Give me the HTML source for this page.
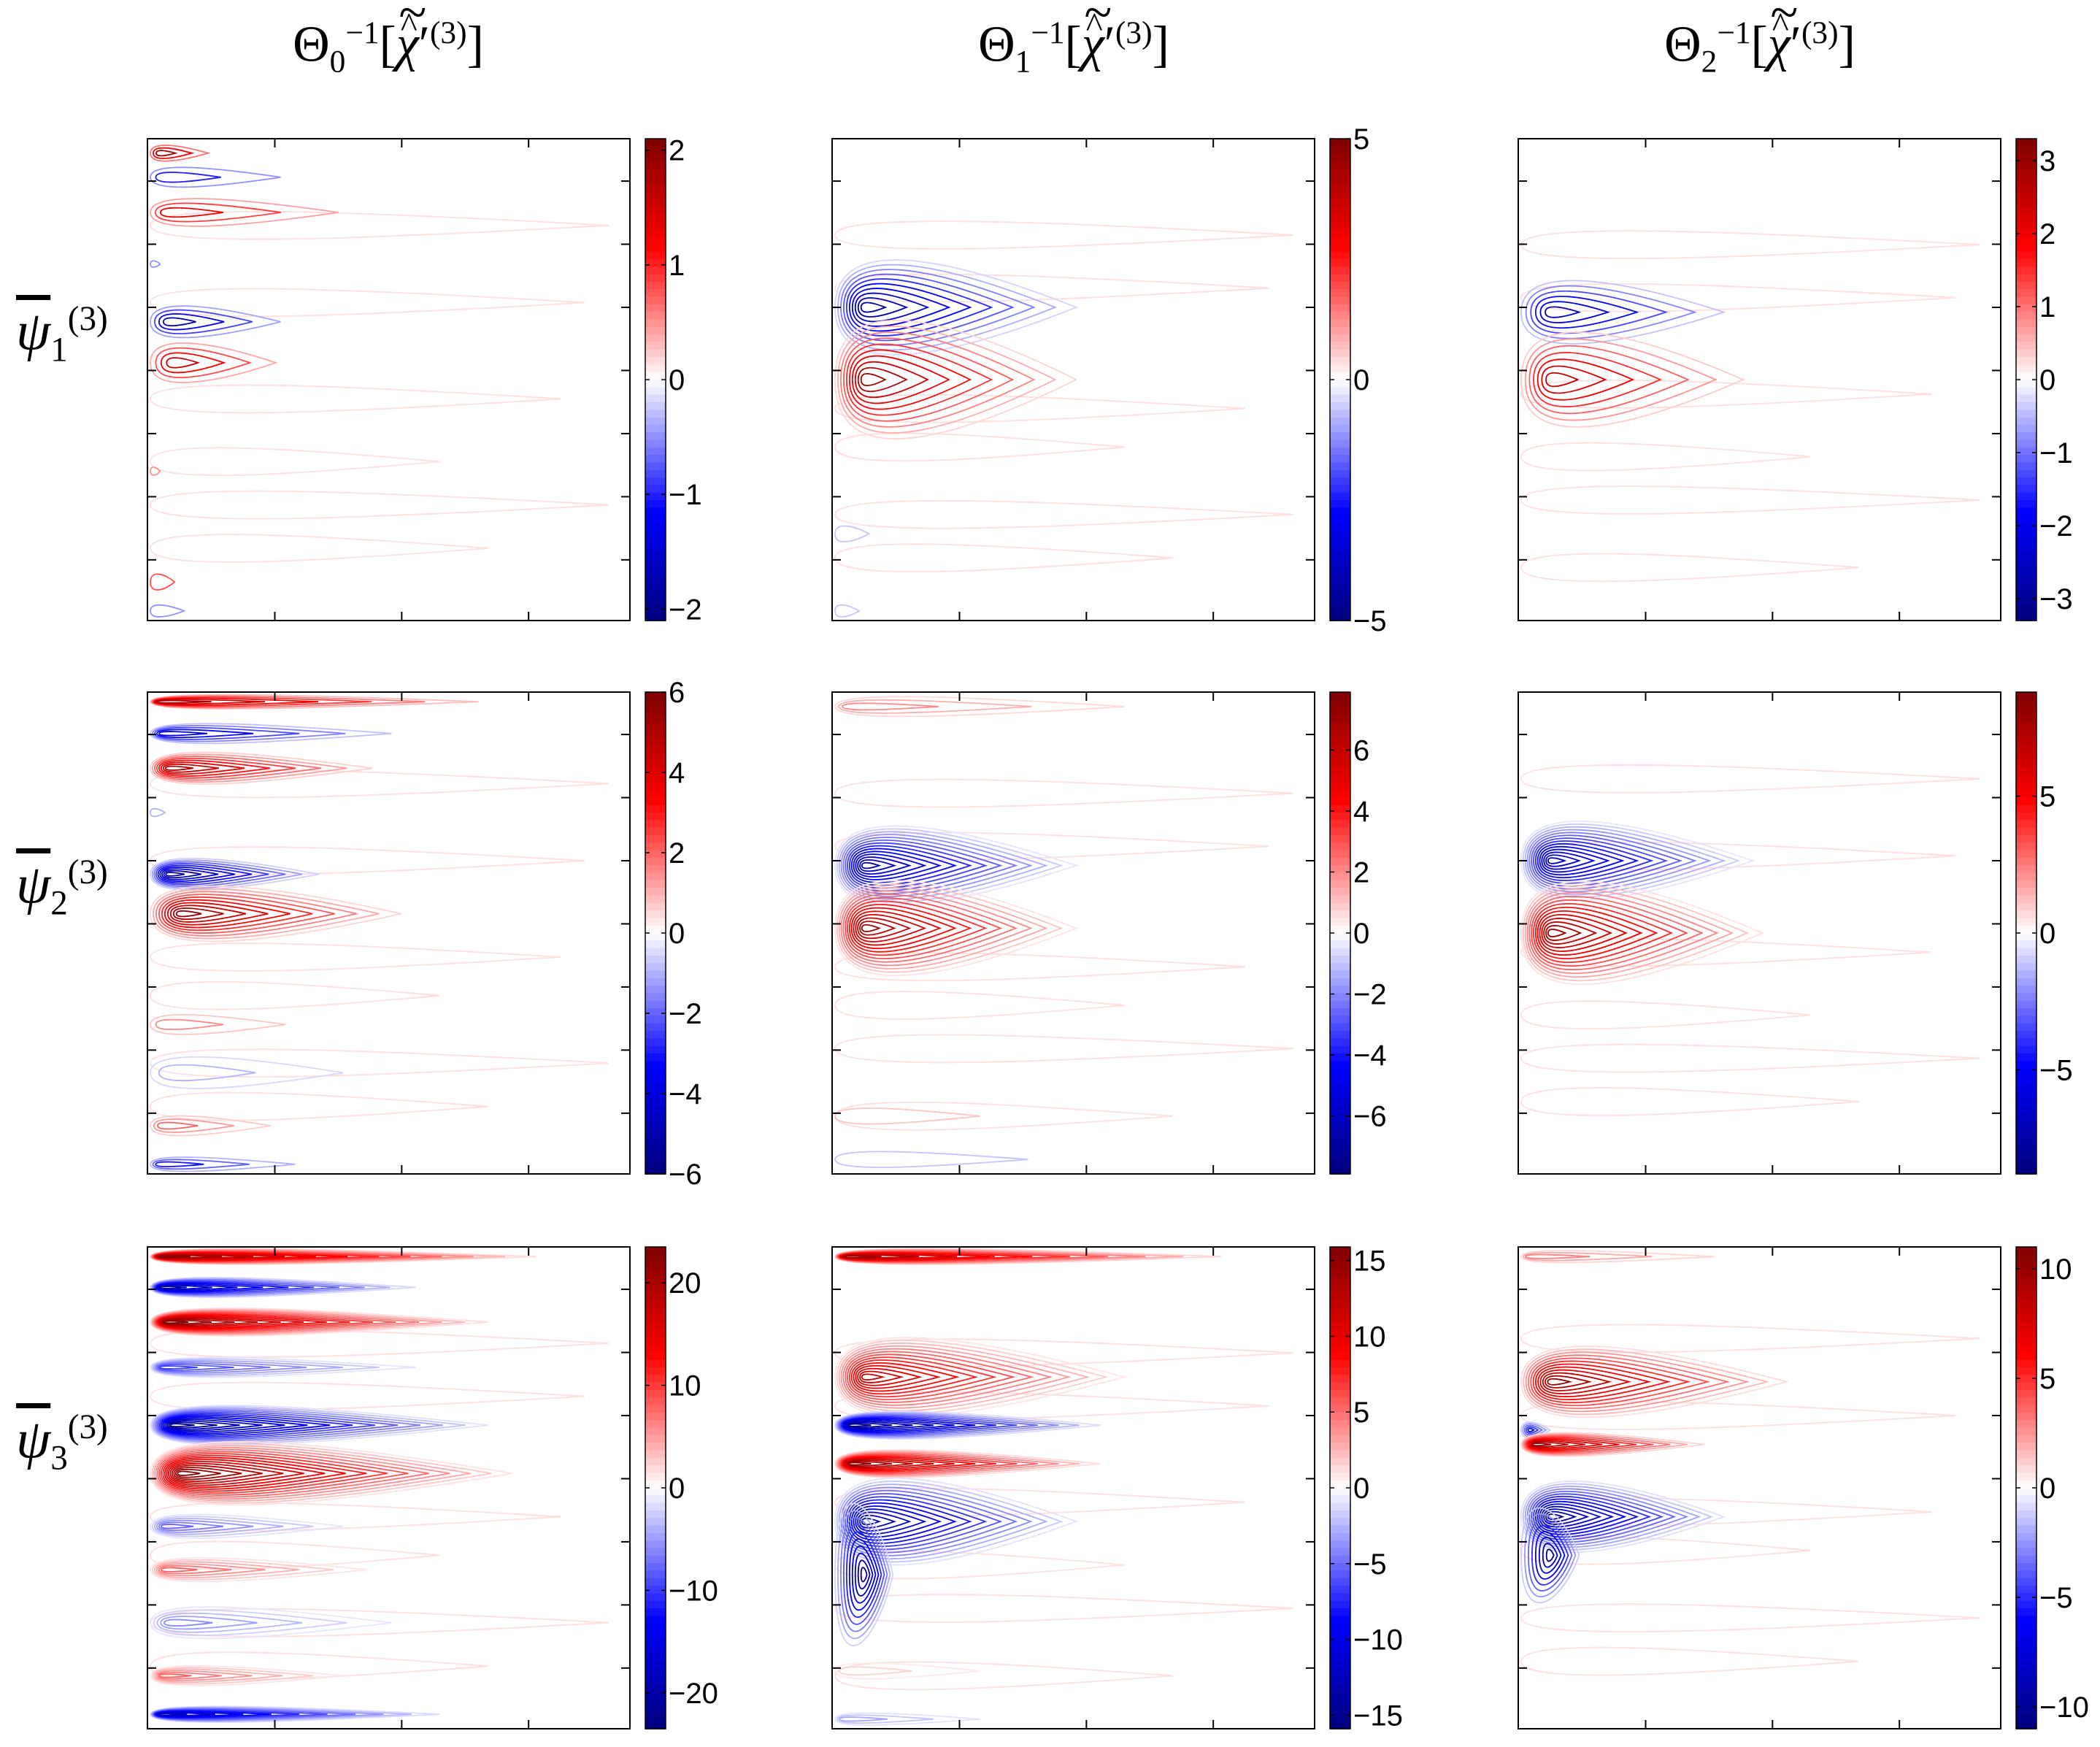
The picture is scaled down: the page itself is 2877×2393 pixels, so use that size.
<!DOCTYPE html>
<html><head><meta charset="utf-8">
<style>
html,body{margin:0;padding:0;background:#fff;}
#wrap{position:relative;width:2877px;height:2393px;overflow:hidden;background:#fff;}
.ttl{position:absolute;font-family:"Liberation Serif",serif;font-size:70px;color:#000;white-space:nowrap;transform:translateX(-50%);}
.rl{position:absolute;font-family:"Liberation Serif",serif;font-size:76px;color:#000;white-space:nowrap;}
sub,sup{font-size:62%;}
.acc{position:relative;display:inline-block;}
.acc .tl{position:absolute;left:0.05em;top:-0.62em;font-style:normal;}
.acc .ht{position:absolute;left:0.12em;top:-0.32em;font-style:normal;font-size:70%;}
</style></head>
<body>
<div id="wrap">
<svg id="svg" width="2877" height="2393" viewBox="0 0 2877 2393" xmlns="http://www.w3.org/2000/svg" style="position:absolute;left:0;top:0"></svg>
<div class="ttl" style="left:532px;top:20px">Θ<sub>0</sub><sup>−1</sup>[<span class="acc"><i>χ</i><span class="tl">~</span><span class="ht">^</span></span>′<sup>(3)</sup>]</div>
<div class="ttl" style="left:1471px;top:20px">Θ<sub>1</sub><sup>−1</sup>[<span class="acc"><i>χ</i><span class="tl">~</span><span class="ht">^</span></span>′<sup>(3)</sup>]</div>
<div class="ttl" style="left:2411px;top:20px">Θ<sub>2</sub><sup>−1</sup>[<span class="acc"><i>χ</i><span class="tl">~</span><span class="ht">^</span></span>′<sup>(3)</sup>]</div>
<div class="rl" style="left:22px;top:410px"><span style="text-decoration:overline"><i>ψ</i></span><sub>1</sub><sup>(3)</sup></div>
<div class="rl" style="left:22px;top:1168px"><span style="text-decoration:overline"><i>ψ</i></span><sub>2</sub><sup>(3)</sup></div>
<div class="rl" style="left:22px;top:1928px"><span style="text-decoration:overline"><i>ψ</i></span><sub>3</sub><sup>(3)</sup></div>
</div>
<script>
// Layout
const colX = [202, 1140, 2080];
const rowY = [190, 948, 1708];
const PW = 661, PH = 660;

// Colorbar maxima per panel (row-major)
const cbMax = [2.1, 5, 3.3, 6, 7.9, 8.8, 23.5, 15.9, 11];
// Colorbar tick labels per panel
const cbTicks = [
  [-2,-1,0,1,2],
  [-5,0,5],
  [-3,-2,-1,0,1,2,3],
  [-6,-4,-2,0,2,4,6],
  [-6,-4,-2,0,2,4,6],
  [-5,0,5],
  [-20,-10,0,10,20],
  [-15,-10,-5,0,5,10,15],
  [-10,-5,0,5,10]
];
// Contour blobs: [y-centre fraction, length fraction, half-height fraction, peak value, level count]
const blobs_r1c1 = [[0.03,0.12,0.02,1.9,3],[0.08,0.27,0.025,-1.0,2],[0.153,0.39,0.035,1.3,3],[0.38,0.27,0.04,-1.7,4],[0.465,0.26,0.05,1.6,4],[0.69,0.02,0.01,0.5,1],[0.92,0.05,0.02,0.8,1],[0.98,0.07,0.015,-0.5,1],[0.26,0.02,0.008,-0.5,1]];
const blobs_r1c2 = [[0.35,0.5,0.12,-4.5,10],[0.5,0.5,0.15,4.5,10],[0.82,0.07,0.02,-0.6,1],[0.98,0.05,0.015,-0.6,1]];
const blobs_r1c3 = [[0.36,0.42,0.08,-2.6,6],[0.5,0.46,0.12,2.6,7]];
const blobs_r2c1 = [[0.02,0.68,0.018,5,6],[0.086,0.5,0.025,-4,5],[0.158,0.46,0.04,5,8],[0.25,0.03,0.01,-1,1],[0.378,0.35,0.04,-5.5,9],[0.46,0.52,0.07,5.5,10],[0.69,0.28,0.025,1.5,2],[0.79,0.4,0.04,-1,2],[0.9,0.25,0.025,2,3],[0.98,0.3,0.018,-3,3]];
const blobs_r2c2 = [[0.03,0.6,0.025,2,3],[0.36,0.5,0.1,-6.5,14],[0.49,0.5,0.12,7,14],[0.88,0.3,0.02,1,1],[0.97,0.4,0.02,-1,1]];
const blobs_r2c3 = [[0.35,0.48,0.1,-7,14],[0.5,0.5,0.13,8,14]];
const blobs_r3c1 = [[0.02,0.8,0.02,22,12],[0.084,0.55,0.025,-20,10],[0.156,0.7,0.035,23,14],[0.25,0.55,0.025,-10,7],[0.37,0.7,0.05,-22,14],[0.47,0.75,0.08,23,16],[0.58,0.4,0.03,-8,6],[0.67,0.45,0.03,8,6],[0.78,0.5,0.04,-6,5],[0.89,0.4,0.025,8,6],[0.97,0.6,0.02,-18,10]];
const blobs_r3c2 = [[0.02,0.8,0.02,14,10],[0.27,0.6,0.1,12,14],[0.37,0.55,0.035,-15,12],[0.45,0.55,0.035,15,12],[0.57,0.5,0.11,-14,14],[0.68,0.03,0.18,-15,10],[0.88,0.3,0.02,1.5,2],[0.98,0.3,0.015,-3,3]];
const blobs_r3c3 = [[0.02,0.4,0.015,3,3],[0.28,0.55,0.09,10,12],[0.38,0.06,0.02,-6,5],[0.41,0.38,0.03,10,10],[0.56,0.42,0.09,-10,14],[0.64,0.03,0.12,-10,8]];
const allBlobs = [blobs_r1c1,blobs_r1c2,blobs_r1c3,blobs_r2c1,blobs_r2c2,blobs_r2c3,blobs_r3c1,blobs_r3c2,blobs_r3c3];
// Faint zero-level streaks: [y fraction, length fraction]
const bg_rows = [[0.2,0.95],[0.33,0.9],[0.55,0.85],[0.65,0.6],[0.76,0.95],[0.87,0.7]];

const NS = "http://www.w3.org/2000/svg";
const svg = document.getElementById('svg');
function mk(tag, attrs, parent){ const e=document.createElementNS(NS,tag); for(const k in attrs) e.setAttribute(k, attrs[k]); (parent||svg).appendChild(e); return e; }

function cmap(t){
  t=Math.max(-1,Math.min(1,t));
  let r,g,b; const a=Math.abs(t);
  let hi, lo;
  if(a<0.55){ const u=a/0.55; hi=255; lo=Math.round(255*(1-u)); }
  else { const u=(a-0.55)/0.45; hi=Math.round(255-u*130); lo=0; }
  if(t>=0){r=hi;g=lo;b=lo;} else {r=lo;g=lo;b=hi;}
  return `rgb(${r},${g},${b})`;
}
function xScale(X, f){ return X + f*PW; }
function yScale(Y, f){ return Y + f*PH; }

function blobPath(X, Y, yf, Lf, rf, s){
  const yc = yScale(Y, yf);
  const ry = rf*PH;
  const rx = Math.min(Math.max(ry*0.9, 6), 0.06*PW);
  const xh = X + 4 + rx;
  const L = Math.max(Lf*PW, rx*2);
  const left = xh - rx*s, right = xh + (L - rx)*s, r2 = ry*s;
  const mx = xh + (right-xh)*0.45;
  return `M${left},${yc} C${left},${yc-r2*1.35} ${mx},${yc-r2*0.8} ${right},${yc} C${mx},${yc+r2*0.8} ${left},${yc+r2*1.35} ${left},${yc} Z`;
}

for(let p=0;p<9;p++){
  const row=Math.floor(p/3), col=p%3;
  const X=colX[col], Y=rowY[row];
  const g=mk('g',{});
  
  
  const cid='clip'+p;
  const cp=mk('clipPath',{id:cid},g); mk('rect',{x:X,y:Y,width:PW,height:PH},cp);
  const cg=mk('g',{'clip-path':`url(#${cid})`},g);
  bg_rows.forEach((b,i)=>{
    const path=mk('path',{d:blobPath(X,Y,b[0]+((p*7+i*3)%5-2)*0.01,b[1],0.035,1),fill:'none',stroke:'#ffe0e0','stroke-width':2},cg);
    
    
  });
  allBlobs[p].forEach(bl=>{
    const [yf,Lf,rf,amp,n]=bl;
    for(let k=0;k<n;k++){
      const s=1-k/n;
      const v=amp*(k+1)/n;
      const path=mk('path',{d:blobPath(X,Y,yf,Lf,rf,s),fill:'none',stroke:cmap(v/cbMax[p]),'stroke-width':1.8},cg);
      
      
    }
  });
  const fr=mk('rect',{x:X,y:Y,width:PW,height:PH,fill:'none',stroke:'#000','stroke-width':2},g);
  
  
  [0.264,0.527,0.79].forEach(f=>{
    const x=X+f*PW;
    mk('line',{x1:x,y1:Y,x2:x,y2:Y+12,stroke:'#000','stroke-width':2},g);
    mk('line',{x1:x,y1:Y+PH,x2:x,y2:Y+PH-12,stroke:'#000','stroke-width':2},g);
  });
  for(let k=0;k<7;k++){
    const y=Y+(0.088+0.131*k)*PH;
    mk('line',{x1:X,y1:y,x2:X+12,y2:y,stroke:'#000','stroke-width':2},g);
    mk('line',{x1:X+PW,y1:y,x2:X+PW-12,y2:y,stroke:'#000','stroke-width':2},g);
  }
  const cb=mk('g',{});
  
  
  const CX=X+682, CW=28, NB=64;
  for(let i=0;i<NB;i++){
    const t=1-(i+0.5)/NB*2;
    mk('rect',{x:CX,y:Y+i*PH/NB,width:CW,height:PH/NB+0.8,fill:cmap(t)},cb);
  }
  mk('rect',{x:CX,y:Y,width:CW,height:PH,fill:'none',stroke:'#000','stroke-width':1.5},cb);
  cbTicks[p].forEach(tv=>{
    const y=Y+PH/2 - tv/cbMax[p]*PH/2;
    mk('line',{x1:CX,y1:y,x2:CX+6,y2:y,stroke:'#000','stroke-width':1.5},cb);
    mk('line',{x1:CX+CW,y1:y,x2:CX+CW-6,y2:y,stroke:'#000','stroke-width':1.5},cb);
    const t=mk('text',{x:CX+CW+4,y:y+14,'font-family':'Liberation Sans, sans-serif','font-size':40,fill:'#000'},cb);
    t.textContent=(tv<0?'\u2212'+Math.abs(tv):String(tv));
    
    
  });
}
</script>
</body></html>
